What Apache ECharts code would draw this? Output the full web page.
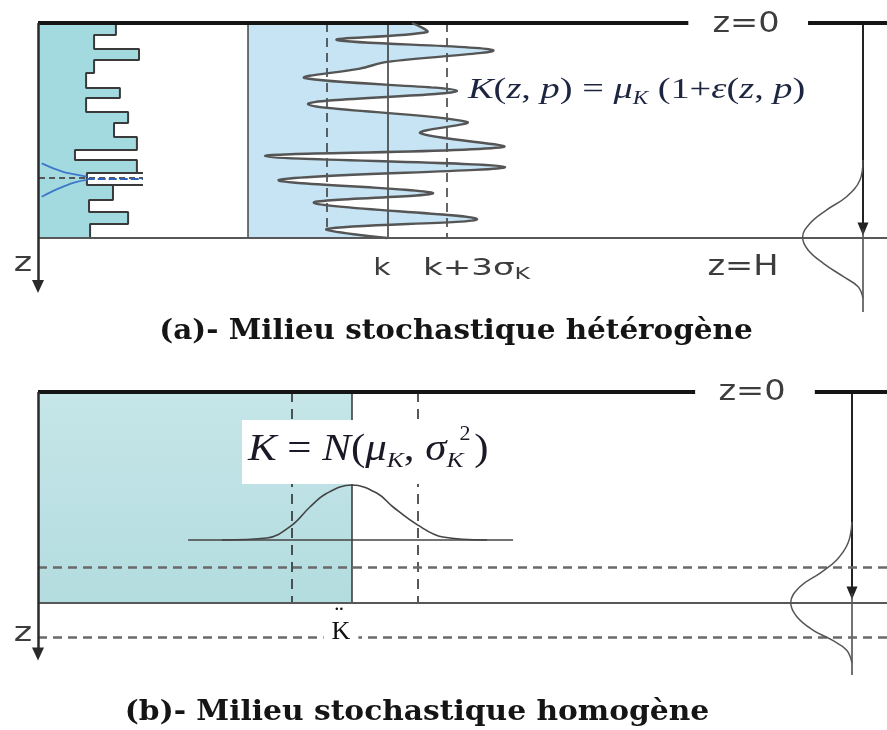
<!DOCTYPE html>
<html><head><meta charset="utf-8">
<script src="https://cdn.jsdelivr.net/npm/echarts@6/dist/echarts.min.js"></script>
<style>html,body{margin:0;padding:0;background:#fff}#c{width:887px;height:730px}</style>
</head><body><div id="c"></div>
<script>
// ===== Panel (a): heterogeneous medium (depth z in % of H) =====
const layerZ = [0,5.6,12.1,17.2,23.3,30.2,34.9,41.4,46.5,53.0,59.1,63.7,69.8,75.3,82.3,87.9,93.5,100];
const layerK = [3.71,2.67,4.81,2.67,2.29,3.90,2.29,4.29,3.62,4.71,1.76,4.71,2.33,3.57,2.43,4.29,2.48];
const blueK  = [0.18,0.73,1.20,1.76,2.32];
const blueUpZ = [65.3,67.6,69.2,70.4,71.5];
const blueLoZ = [80.8,78.1,76.1,74.1,73.0];
// realization K(z,p)
const realK = [11.71,12.79,6.36,17.5,9.93,8.0,4.07,14.93,4.29,15.64,12.29,18.21,1.21,18.36,2.21,13.21,4.71,16.36,5.64,9.93];
const realZ = [0,4.2,7.9,12.6,18.1,21.2,25.6,31.6,37.7,46.0,51.2,57.7,61.9,67.0,73.0,79.1,83.7,91.2,95.8,100];
const kMean = 10, kMinus = 5.64, kPlus = 14.21;
// depth density (right)
const pdfAz = [63.7,73.0,80.8,87.0,93.2,99.7,105.6,111.8,118.0,122.7,128.0];
const pdfAd = [0,0.05,0.27,0.60,0.87,0.99,0.90,0.65,0.32,0.08,0];
// ===== Panel (b): homogeneous medium =====
const muK = 10, kLowB = 8.09, kHighB = 12.10;
const normK = [5.86,7.29,8.09,8.66,9.20,10.0,10.80,11.31,12.10,12.89,14.30];
const normD = [0,0.036,0.27,0.60,0.85,1.0,0.85,0.60,0.27,0.055,0];
const pdfBz = [61.5,71.6,79.6,85.8,92.3,99.9,106.5,112.8,117.5,122.3,128.4];
const pdfBd = [0,0.065,0.25,0.52,0.85,1.0,0.90,0.64,0.33,0.09,0];
const zDashB = [82.9,116.1];

const zip = (a,b)=>a.map((v,i)=>[v,b[i]]);
const stepLine = [];
layerK.forEach((k,i)=>{stepLine.push([k,layerZ[i]],[k,layerZ[i+1]]);});

const ax = (grid,min,max,inv)=>({type:'value',gridIndex:grid,min,max,inverse:!!inv,show:false});
const ML = (data)=>({silent:true,symbol:'none',label:{show:false},emphasis:{disabled:true},animation:false,data});
const seg = (a,b,style,endSym)=>{
  const s=[{coord:a,lineStyle:Object.assign({type:'solid'},style)},{coord:b}];
  if(endSym){s[1].symbol=endSym.symbol;s[1].symbolSize=endSym.size;}
  return s;
};
const host = (xi,yi,pt,lines,z)=>({type:'line',xAxisIndex:xi,yAxisIndex:yi,data:[pt],showSymbol:false,symbol:'none',
  lineStyle:{opacity:0},clip:false,z:z||5,silent:true,markLine:ML(lines)});

const chart = echarts.init(document.getElementById('c'));
const serif = '"Liberation Serif", "Times New Roman", serif';
const formulaCol = '#1d2540';
const labCol = '#3d3d3d';
const tri = {symbol:'triangle',size:[11,13]};

chart.setOption({
  animation:false,
  grid:[
    {left:38,top:23,width:210,height:215},
    {left:248,top:23,width:639,height:215},
    {left:780,top:23,width:83,height:290},
    {left:38,top:23,width:849,height:270},
    {left:38,top:392,width:849,height:211},
    {left:38,top:485,width:849,height:55},
    {left:780,top:392,width:72,height:283},
    {left:38,top:392,width:849,height:266}
  ],
  xAxis:[ax(0,0,10),ax(1,0,45.64),ax(2,0,1.36,true),ax(3,0,100),ax(4,0,27.04),ax(5,0,27.04),ax(6,0,1.175,true),ax(7,0,100)],
  yAxis:[ax(0,0,100,true),ax(1,0,100,true),ax(2,0,134.88,true),ax(3,0,125.58,true),ax(4,0,100,true),ax(5,0,1),ax(6,0,134.12,true),ax(7,0,126.07,true)],
  series:[
    // layered K fill
    {type:'custom',xAxisIndex:0,yAxisIndex:0,z:2,silent:true,
     data:layerK.map((k,i)=>[k,layerZ[i],layerZ[i+1]]),
     renderItem:(p,api)=>{const a=api.coord([0,api.value(1)]),b=api.coord([api.value(0),api.value(2)]);
       return {type:'rect',shape:{x:a[0],y:a[1],width:b[0]-a[0],height:b[1]-a[1]+0.5},style:{fill:'#a3dadf'}};}},
    {type:'line',xAxisIndex:0,yAxisIndex:0,data:stepLine,showSymbol:false,symbol:'none',z:4,silent:true,
     lineStyle:{color:'#3a3a3a',width:2},
     markLine:ML([
       seg([0.05,72.1],[5.0,72.1],{color:'#555',width:2,type:[6,4]}),
       seg([4.71,69.8],[5.0,69.8],{color:'#3a3a3a',width:2}),
       seg([3.57,75.3],[5.0,75.3],{color:'#3a3a3a',width:2}),
       seg([2.32,72.5],[5.0,72.5],{color:'#2e62b8',width:2,type:[8,3]})
     ])},
    {type:'line',xAxisIndex:0,yAxisIndex:0,data:zip(blueK,blueUpZ),smooth:0.4,showSymbol:false,symbol:'none',z:5,silent:true,lineStyle:{color:'#3f78c8',width:1.8}},
    {type:'line',xAxisIndex:0,yAxisIndex:0,data:zip(blueK,blueLoZ),smooth:0.4,showSymbol:false,symbol:'none',z:5,silent:true,lineStyle:{color:'#3f78c8',width:1.8}},
    // realization fill
    {type:'custom',xAxisIndex:1,yAxisIndex:1,z:2,silent:true,data:[[0,0]],
     renderItem:(p,api)=>{
       const pts=[[0,0]].concat(zip(realK,realZ),[[0,100]]).map(d=>api.coord(d));
       const cs=p.coordSys;
       return {type:'group',clipPath:{type:'rect',shape:{x:cs.x,y:cs.y,width:cs.width,height:cs.height}},
         children:[{type:'polygon',shape:{points:pts,smooth:0.35},style:{fill:'#c6e4f4',stroke:'none'}}]};
     }},
    host(1,1,[0,0],[
      seg([0,0],[0,100],{color:'#444',width:1.5}),
      seg([kMean,0],[kMean,100],{color:'#333',width:1.5}),
      seg([kMinus,0],[kMinus,95.8],{color:'#333',width:1.5,type:[9,6]}),
      seg([kPlus,0],[kPlus,100],{color:'#333',width:1.5,type:[9,6]})
    ],3),
    {type:'custom',xAxisIndex:1,yAxisIndex:1,z:6,silent:true,data:[[0,0]],
     renderItem:(p,api)=>{
       const pts=zip(realK,realZ).map(d=>api.coord(d));
       return {type:'polyline',shape:{points:pts,smooth:0.35},style:{stroke:'#555',lineWidth:2.4,fill:'none'}};
     }},
    // depth density (a)
    {type:'line',xAxisIndex:2,yAxisIndex:2,data:zip(pdfAd,pdfAz),smooth:0.4,showSymbol:false,symbol:'none',z:6,silent:true,clip:false,
     lineStyle:{color:'#555',width:1.5},
     markLine:ML([
       seg([0,0],[0,95.8],{color:'#222',width:2},tri),
       seg([0,95.8],[0,134.4],{color:'#444',width:1.5})
     ])},
    // frame (a)
    host(3,3,[0,0],[
      seg([0,0],[76.6,0],{color:'#151515',width:4}),
      seg([90.7,0],[100,0],{color:'#151515',width:4}),
      seg([0,100],[100,100],{color:'#585858',width:2}),
      seg([0,0],[0,122.6],{color:'#2a2a2a',width:2.5},{symbol:'triangle',size:[12,13]})
    ],8),
    // panel (b) mean K block
    {type:'custom',xAxisIndex:4,yAxisIndex:4,z:1,silent:true,data:[[muK,0,100]],
     renderItem:(p,api)=>{const a=api.coord([0,api.value(1)]),b=api.coord([api.value(0),api.value(2)]);
       return {type:'rect',shape:{x:a[0],y:a[1],width:b[0]-a[0],height:b[1]-a[1]},
         style:{fill:{type:'linear',x:0,y:0,x2:0,y2:1,colorStops:[{offset:0,color:'#c6e6e9'},{offset:1,color:'#b3dcdf'}]}}};}},
    host(4,4,[0,0],[
      seg([muK,0],[muK,100],{color:'#333',width:1.5}),
      seg([kLowB,0],[kLowB,100],{color:'#222',width:1.5,type:[10,7]}),
      seg([kHighB,0],[kHighB,100],{color:'#222',width:1.5,type:[10,7]})
    ],3),
    {type:'line',xAxisIndex:5,yAxisIndex:5,data:zip(normK,normD),smooth:0.4,showSymbol:false,symbol:'none',z:20,silent:true,clip:false,
     lineStyle:{color:'#444',width:1.6},
     markLine:ML([seg([4.78,0],[15.13,0],{color:'#444',width:1.6})])},
    {type:'line',xAxisIndex:6,yAxisIndex:6,data:zip(pdfBd,pdfBz),smooth:0.4,showSymbol:false,symbol:'none',z:6,silent:true,clip:false,
     lineStyle:{color:'#555',width:1.5},
     markLine:ML([
       seg([0,0],[0,95.3],{color:'#222',width:2},tri),
       seg([0,95.3],[0,134.1],{color:'#444',width:1.5})
     ])},
    host(7,7,[0,0],[
      seg([0,0],[77.4,0],{color:'#151515',width:4}),
      seg([91.5,0],[100,0],{color:'#151515',width:4}),
      seg([0,100],[100,100],{color:'#585858',width:2}),
      seg([0,zDashB[0]],[100,zDashB[0]],{color:'#6a6a6a',width:2.5,type:[9,6]}),
      seg([0,zDashB[1]],[100,zDashB[1]],{color:'#6a6a6a',width:2.5,type:[9,6]}),
      seg([0,0],[0,124.2],{color:'#2a2a2a',width:2.5},{symbol:'triangle',size:[12,13]})
    ],8)
  ],
  graphic:[
    {type:'rect',z:10,shape:{x:242,y:420,width:258,height:64},style:{fill:'#fff'}},
    {type:'text',z:100,x:746,y:25,scaleX:1.2,style:{text:'z=0',font:'28px "DejaVu Sans"',fill:labCol,align:'center',verticalAlign:'middle'}},
    {type:'text',z:100,x:743,y:268,scaleX:1.2,style:{text:'z=H',font:'28px "DejaVu Sans"',fill:labCol,align:'center',verticalAlign:'middle'}},
    {type:'text',z:100,x:382,y:269,scaleX:1.3,style:{text:'k',font:'23px "DejaVu Sans"',fill:labCol,align:'center',verticalAlign:'middle'}},
    {type:'text',z:100,x:423,y:269,scaleX:1.48,style:{text:'{m|k+3σ}{s|K}',align:'left',verticalAlign:'middle',
      rich:{m:{font:'23px "DejaVu Sans"',fill:labCol,lineHeight:28,verticalAlign:'middle'},s:{font:'16px "DejaVu Sans"',fill:labCol,lineHeight:10,verticalAlign:'bottom'}}}},
    {type:'text',z:100,x:23,y:264,scaleX:1.3,style:{text:'z',font:'27px "DejaVu Sans"',fill:labCol,align:'center',verticalAlign:'middle'}},
    {type:'text',z:100,x:752,y:393,scaleX:1.2,style:{text:'z=0',font:'28px "DejaVu Sans"',fill:labCol,align:'center',verticalAlign:'middle'}},
    {type:'text',z:100,x:23,y:634,scaleX:1.3,style:{text:'z',font:'27px "DejaVu Sans"',fill:labCol,align:'center',verticalAlign:'middle'}},
    {type:'text',z:100,x:341,y:632,style:{text:'K',font:'26px '+serif,fill:'#111',align:'center',verticalAlign:'middle',backgroundColor:'#fff',padding:[0,8]}},
    {type:'text',z:100,x:339,y:617,style:{text:'¨',font:'26px '+serif,fill:'#111',align:'center',verticalAlign:'middle'}},
    {type:'text',z:100,x:456,y:332,scaleX:1.09,style:{text:'(a)- Milieu stochastique hétérogène',font:'bold 27px "DejaVu Serif"',fill:'#151515',align:'center',verticalAlign:'middle'}},
    {type:'text',z:100,x:417,y:713,scaleX:1.10,style:{text:'(b)- Milieu stochastique homogène',font:'bold 27px "DejaVu Serif"',fill:'#151515',align:'center',verticalAlign:'middle'}},
    {type:'text',z:100,x:468,y:90,scaleX:1.28,style:{
      text:'{i|K}{r|(}{i|z}{r|, }{i|p}{r|) = }{i|μ}{s|K}{r| (1+}{i|ε}{r|(}{i|z}{r|, }{i|p}{r|)}',
      align:'left',verticalAlign:'middle',
      rich:{i:{font:'italic 30px '+serif,fill:formulaCol,lineHeight:36,verticalAlign:'middle'},
            r:{font:'30px '+serif,fill:formulaCol,lineHeight:36,verticalAlign:'middle'},
            s:{font:'italic 18px '+serif,fill:formulaCol,lineHeight:14,verticalAlign:'bottom'}}}},
    {type:'text',z:100,x:248,y:450,scaleX:1.16,style:{
      text:'{i|K}{r| = }{i|N}{r|(}{i|μ}{s|K}{r|, }{i|σ}{s|K}{r| )}',
      align:'left',verticalAlign:'middle',
      rich:{i:{font:'italic 37px '+serif,fill:'#1a1a26',lineHeight:44,verticalAlign:'middle'},
            r:{font:'37px '+serif,fill:'#1a1a26',lineHeight:44,verticalAlign:'middle'},
            s:{font:'italic 22px '+serif,fill:'#1a1a26',lineHeight:14,verticalAlign:'bottom'}}}},
    {type:'text',z:100,x:465,y:434,style:{text:'2',font:'22px '+serif,fill:'#1a1a26',align:'center',verticalAlign:'middle'}}
  ]
});
</script></body></html>
